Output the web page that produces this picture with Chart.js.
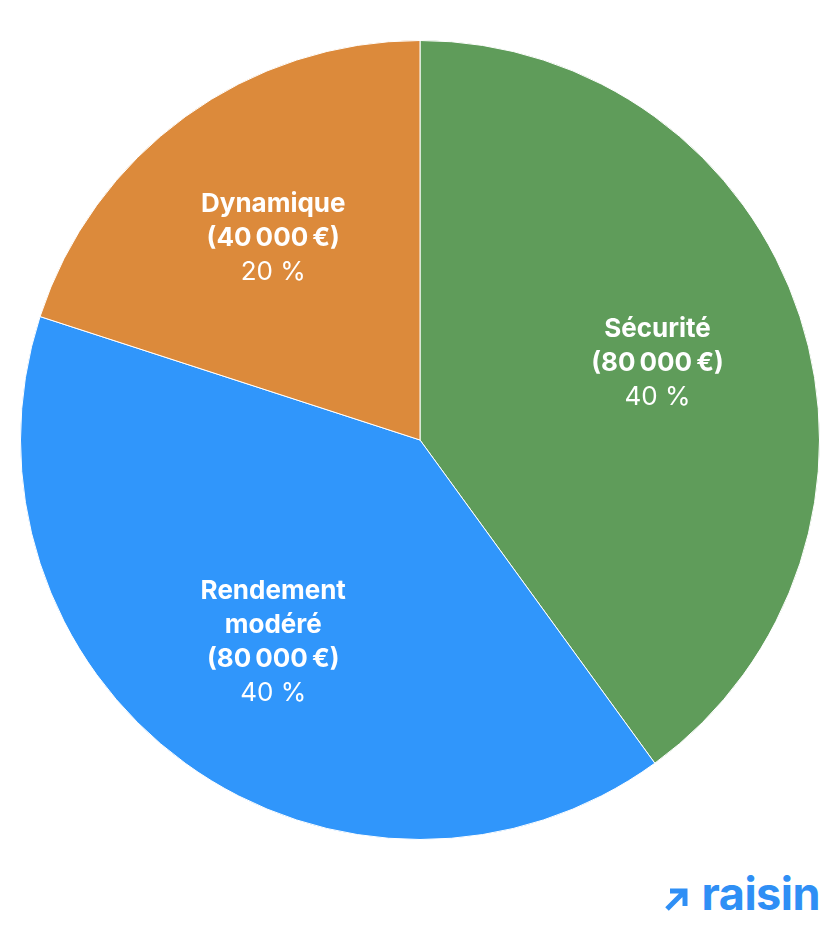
<!DOCTYPE html>
<html lang="fr">
<head>
<meta charset="utf-8">
<script src="https://cdn.jsdelivr.net/npm/chart.js@4/dist/chart.umd.min.js"></script>
<style>
  html, body { margin: 0; padding: 0; background: #fff; }
  body { width: 840px; height: 936px; position: relative; overflow: hidden; font-family: Inter, sans-serif; }
  #wrap { position: absolute; left: 20px; top: 40px; width: 800px; height: 800px; }
  #logo { position: absolute; right: 20px; top: 866px; display: flex; align-items: center; color: #2f8ff5; font-weight: 700; font-size: 45px; letter-spacing: -0.5px; }
  #logo svg { margin-right: 12px; margin-top: 10px; }
</style>
</head>
<body>
<div id="wrap"><canvas id="pie"></canvas></div>
<div id="logo">
  <svg width="26" height="26" viewBox="0 0 26 26"><path d="M3 23 L21 5 M6 5 H21 V20" stroke="#2f8ff5" stroke-width="5" fill="none" stroke-linecap="butt"/></svg>
  <span>raisin</span>
</div>
<script>
// Répartition du portefeuille
const categories = ['Sécurité', 'Rendement modéré', 'Dynamique'];
const nomsLignes = [['Sécurité'], ['Rendement', 'modéré'], ['Dynamique']];
const montants = [80000, 80000, 40000];
const pourcentages = [40, 40, 20];
const couleurs = ['#5f9c5a', '#3096fb', '#dc8a3b'];

const formatEuro = v => '(' + v.toLocaleString('fr-FR').replace(/\s/g, '\u202f') + '\u202f€)';

// Étiquettes dans les parts
const etiquettes = {
    id: 'etiquettes',
    afterDatasetsDraw(chart) {
        const ctx = chart.ctx;
        const meta = chart.getDatasetMeta(0);
        meta.data.forEach((arc, i) => {
            const mid = (arc.startAngle + arc.endAngle) / 2;
            const r = arc.outerRadius * 0.625;
            const x = arc.x + Math.cos(mid) * r;
            const y = arc.y + Math.sin(mid) * r;
            const lignes = nomsLignes[i].map(t => ({ t, bold: true }));
            lignes.push({ t: formatEuro(montants[i]), bold: true });
            lignes.push({ t: pourcentages[i] + ' %', bold: false });
            const h = 34;
            let y0 = y - (lignes.length - 1) * h / 2;
            ctx.save();
            ctx.fillStyle = '#fff';
            ctx.textAlign = 'center';
            ctx.textBaseline = 'middle';
            lignes.forEach((l, k) => {
                ctx.font = (l.bold ? '700 ' : '400 ') + '26px Inter';
                ctx.fillText(l.t, x, y0 + k * h);
            });
            ctx.restore();
        });
    }
};

new Chart(document.getElementById('pie'), {
    type: 'pie',
    data: {
        labels: categories,
        datasets: [{
            data: pourcentages,
            backgroundColor: couleurs,
            borderColor: '#ffffff',
            borderWidth: 1
        }]
    },
    options: {
        responsive: true,
        maintainAspectRatio: false,
        animation: false,
        layout: { padding: 0 },
        plugins: {
            legend: { display: false },
            tooltip: { enabled: false }
        }
    },
    plugins: [etiquettes]
});
</script>
</body>
</html>
